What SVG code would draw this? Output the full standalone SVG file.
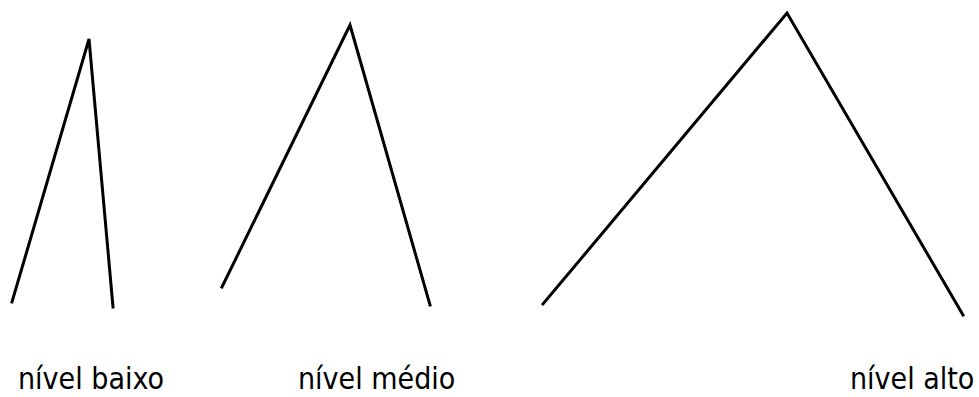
<svg xmlns="http://www.w3.org/2000/svg" width="979" height="397" viewBox="0 0 979 397">
<style>
.edge{fill:none;stroke:#000;stroke-width:3;stroke-linejoin:miter;stroke-linecap:square}
.lbl{font-family:"DejaVu Sans Condensed","DejaVu Sans",sans-serif;font-size:30px;fill:#000}
</style>
<rect width="979" height="397" fill="#fff"/>
<g id="connectors">
<polyline class="edge" points="12,302 89,39 113,307"/>
<polyline class="edge" points="222,287 350,25 430,305"/>
<polyline class="edge" points="543,304 787,13 963,315"/>
</g>
<g id="node-baixo"><text class="lbl" x="18" y="389">nível baixo</text></g>
<g id="node-medio"><text class="lbl" x="298" y="389">nível médio</text></g>
<g id="node-alto"><text class="lbl" x="850" y="389">nível alto</text></g>
</svg>
